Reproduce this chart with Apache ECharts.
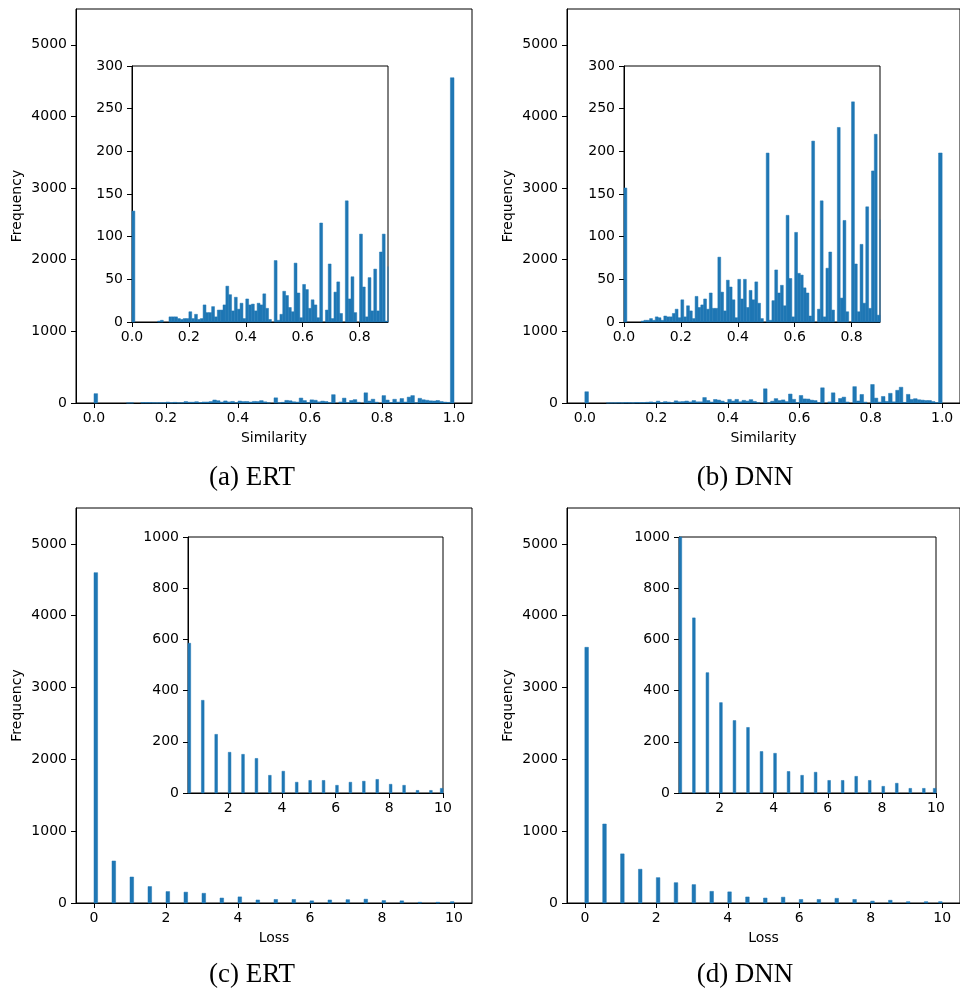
<!DOCTYPE html>
<html>
<head>
<meta charset="utf-8">
<script src="https://cdn.jsdelivr.net/npm/echarts@6/dist/echarts.min.js"></script>
<style>
  html, body { margin: 0; padding: 0; background: #fff; }
  #chart { width: 960px; height: 992px; }
</style>
</head>
<body>
<div id="chart"></div>
<script>
// Similarity histograms: 100 bins of width 0.01 over [0, 1]
const simBinWidth = 0.01;
const ertSimCounts = [
  130, 0, 0, 0, 0, 0, 0, 0, 0, 1,
  2, 0, 0, 6, 6, 6, 4, 3, 4, 4,
  12, 4, 9, 3, 4, 20, 11, 11, 18, 6,
  14, 14, 20, 42, 32, 13, 29, 15, 22, 4,
  27, 20, 21, 13, 22, 20, 33, 16, 3, 0,
  72, 2, 9, 36, 31, 17, 12, 69, 34, 5,
  44, 38, 16, 26, 20, 5, 116, 0, 14, 68,
  4, 35, 47, 10, 0, 142, 27, 53, 11, 0,
  103, 41, 6, 52, 13, 62, 13, 82, 103, 1,
  65, 45, 38, 30, 28, 35, 20, 12, 8, 4540
];
const dnnSimCounts = [
  157, 0, 0, 0, 0, 0, 1, 2, 2, 4,
  2, 6, 5, 2, 7, 6, 6, 10, 15, 5,
  26, 6, 19, 13, 4, 30, 17, 20, 27, 15,
  34, 16, 16, 76, 35, 13, 49, 41, 26, 5,
  50, 27, 50, 17, 37, 26, 47, 22, 4, 0,
  198, 2, 25, 61, 34, 43, 19, 125, 51, 6,
  105, 57, 55, 40, 34, 7, 212, 0, 15, 142,
  6, 63, 82, 14, 0, 228, 28, 119, 12, 0,
  258, 68, 12, 91, 22, 135, 16, 177, 220, 8,
  120, 50, 60, 45, 40, 35, 35, 20, 5, 3490
];

// Loss histograms: only these bins (width 0.1, left edges listed) are populated
const lossBinEdges = [0, 0.5, 1, 1.5, 2, 2.5, 3, 3.5, 4, 4.5, 5, 5.5, 6, 6.5, 7, 7.5, 8, 8.5, 9, 9.5, 9.9];
const lossBinWidth = 0.1;
const ertLossCounts = [4600, 585, 362, 229, 159, 151, 135, 69, 85, 42, 49, 49, 30, 42, 46, 53, 34, 30, 10, 10, 18];
const dnnLossCounts = [3560, 1100, 684, 470, 353, 283, 256, 162, 155, 84, 69, 81, 49, 49, 65, 49, 26, 38, 18, 18, 18];

// Tick values
const simTicks = [0, 0.2, 0.4, 0.6, 0.8, 1.0];
const simInsetTicks = [0, 0.2, 0.4, 0.6, 0.8];
const lossTicks = [0, 2, 4, 6, 8, 10];
const lossInsetTicks = [2, 4, 6, 8, 10];
const freqTicks = [0, 1000, 2000, 3000, 4000, 5000];
const insetSimFreqTicks = [0, 50, 100, 150, 200, 250, 300];
const insetLossFreqTicks = [0, 200, 400, 600, 800, 1000];

const BAR = '#1f77b4';
const FONT = 'DejaVu Sans';

const simBins = counts => counts.map((c, i) => [i * simBinWidth, (i + 1) * simBinWidth, c]);
const lossBins = counts => counts.map((c, i) => [lossBinEdges[i], lossBinEdges[i] + lossBinWidth, c]);

// One histogram bin drawn as a rectangle from the axis scales, clipped to its grid
function renderBin(params, api) {
  const y = api.value(2);
  if (!(y > 0)) return null;
  const p0 = api.coord([api.value(0), y]);
  const p1 = api.coord([api.value(1), 0]);
  const cs = params.coordSys;
  const shape = echarts.graphic.clipRectByRect(
    { x: p0[0], y: p0[1], width: p1[0] - p0[0], height: p1[1] - p0[1] },
    { x: cs.x, y: cs.y, width: cs.width, height: cs.height }
  );
  return shape && {
    type: 'rect', shape: shape,
    style: { fill: BAR, stroke: BAR, lineWidth: 0.5 }
  };
}

const grids = [
  { left: 76,  top: 9,   width: 396, height: 394 }, // (a) main
  { left: 132, top: 66,  width: 256, height: 256 }, // (a) inset
  { left: 567, top: 9,   width: 396, height: 394 }, // (b) main
  { left: 624, top: 66,  width: 256, height: 256 }, // (b) inset
  { left: 76,  top: 508, width: 396, height: 395 }, // (c) main
  { left: 188, top: 537, width: 255, height: 256 }, // (c) inset
  { left: 567, top: 508, width: 396, height: 395 }, // (d) main
  { left: 679, top: 537, width: 257, height: 256 }  // (d) inset
].map(g => Object.assign({
  show: true, backgroundColor: '#fff', borderColor: '#000', borderWidth: 1, containLabel: false
}, g));

const tickStyle = { show: true, inside: false, length: 5, lineStyle: { color: '#000', width: 1 } };
const lineStyle = { show: true, onZero: false, lineStyle: { color: '#000', width: 1 } };
const labelText = { color: '#000', fontFamily: FONT, fontSize: 14 };
const nameText = { color: '#000', fontFamily: FONT, fontSize: 14 };

function xAx(grid, min, max, ticks, fmt, name) {
  return {
    type: 'value', gridIndex: grid, min: min, max: max,
    axisLine: lineStyle,
    axisTick: Object.assign({ customValues: ticks }, tickStyle),
    axisLabel: Object.assign({ customValues: ticks, margin: 8, formatter: fmt, showMinLabel: true, showMaxLabel: true }, labelText),
    splitLine: { show: false },
    name: name || '', nameLocation: 'middle', nameGap: 28, nameTextStyle: nameText
  };
}
function yAx(grid, max, ticks, name) {
  return {
    type: 'value', gridIndex: grid, min: 0, max: max,
    axisLine: lineStyle,
    axisTick: Object.assign({ customValues: ticks }, tickStyle),
    axisLabel: Object.assign({ customValues: ticks, margin: 9, formatter: v => String(Math.round(v)) }, labelText),
    splitLine: { show: false },
    name: name || '', nameLocation: 'middle', nameGap: 52, nameTextStyle: nameText
  };
}
const f1 = v => v.toFixed(1);
const f0 = v => String(Math.round(v));

const xAxis = [
  xAx(0, -0.05, 1.05, simTicks, f1, 'Similarity'),
  xAx(1, 0, 0.9, simInsetTicks, f1),
  xAx(2, -0.05, 1.05, simTicks, f1, 'Similarity'),
  xAx(3, 0, 0.9, simInsetTicks, f1),
  xAx(4, -0.5, 10.5, lossTicks, f0, 'Loss'),
  xAx(5, 0.5, 10, lossInsetTicks, f0),
  xAx(6, -0.5, 10.5, lossTicks, f0, 'Loss'),
  xAx(7, 0.5, 10, lossInsetTicks, f0)
];
const yAxis = [
  yAx(0, 5500, freqTicks, 'Frequency'),
  yAx(1, 300, insetSimFreqTicks),
  yAx(2, 5500, freqTicks, 'Frequency'),
  yAx(3, 300, insetSimFreqTicks),
  yAx(4, 5500, freqTicks, 'Frequency'),
  yAx(5, 1000, insetLossFreqTicks),
  yAx(6, 5500, freqTicks, 'Frequency'),
  yAx(7, 1000, insetLossFreqTicks)
];

const panelData = [
  simBins(ertSimCounts), simBins(ertSimCounts),
  simBins(dnnSimCounts), simBins(dnnSimCounts),
  lossBins(ertLossCounts), lossBins(ertLossCounts),
  lossBins(dnnLossCounts), lossBins(dnnLossCounts)
];
const series = panelData.map((d, i) => ({
  type: 'custom', xAxisIndex: i, yAxisIndex: i,
  renderItem: renderBin, data: d, silent: true,
  z: i % 2 === 1 ? 10 : 2
}));

const captions = [
  { text: '(a) ERT', x: 252, y: 478 },
  { text: '(b) DNN', x: 745, y: 478 },
  { text: '(c) ERT', x: 252, y: 975 },
  { text: '(d) DNN', x: 745, y: 975 }
];

const chart = echarts.init(document.getElementById('chart'), null, { renderer: 'canvas' });
chart.setOption({
  animation: false,
  backgroundColor: '#fff',
  grid: grids,
  xAxis: xAxis,
  yAxis: yAxis,
  series: series,
  graphic: captions.map(c => ({
    type: 'text', x: c.x, y: c.y,
    style: { text: c.text, font: '27px "Liberation Serif"', fill: '#000', align: 'center', verticalAlign: 'middle' }
  }))
});
</script>
</body>
</html>
